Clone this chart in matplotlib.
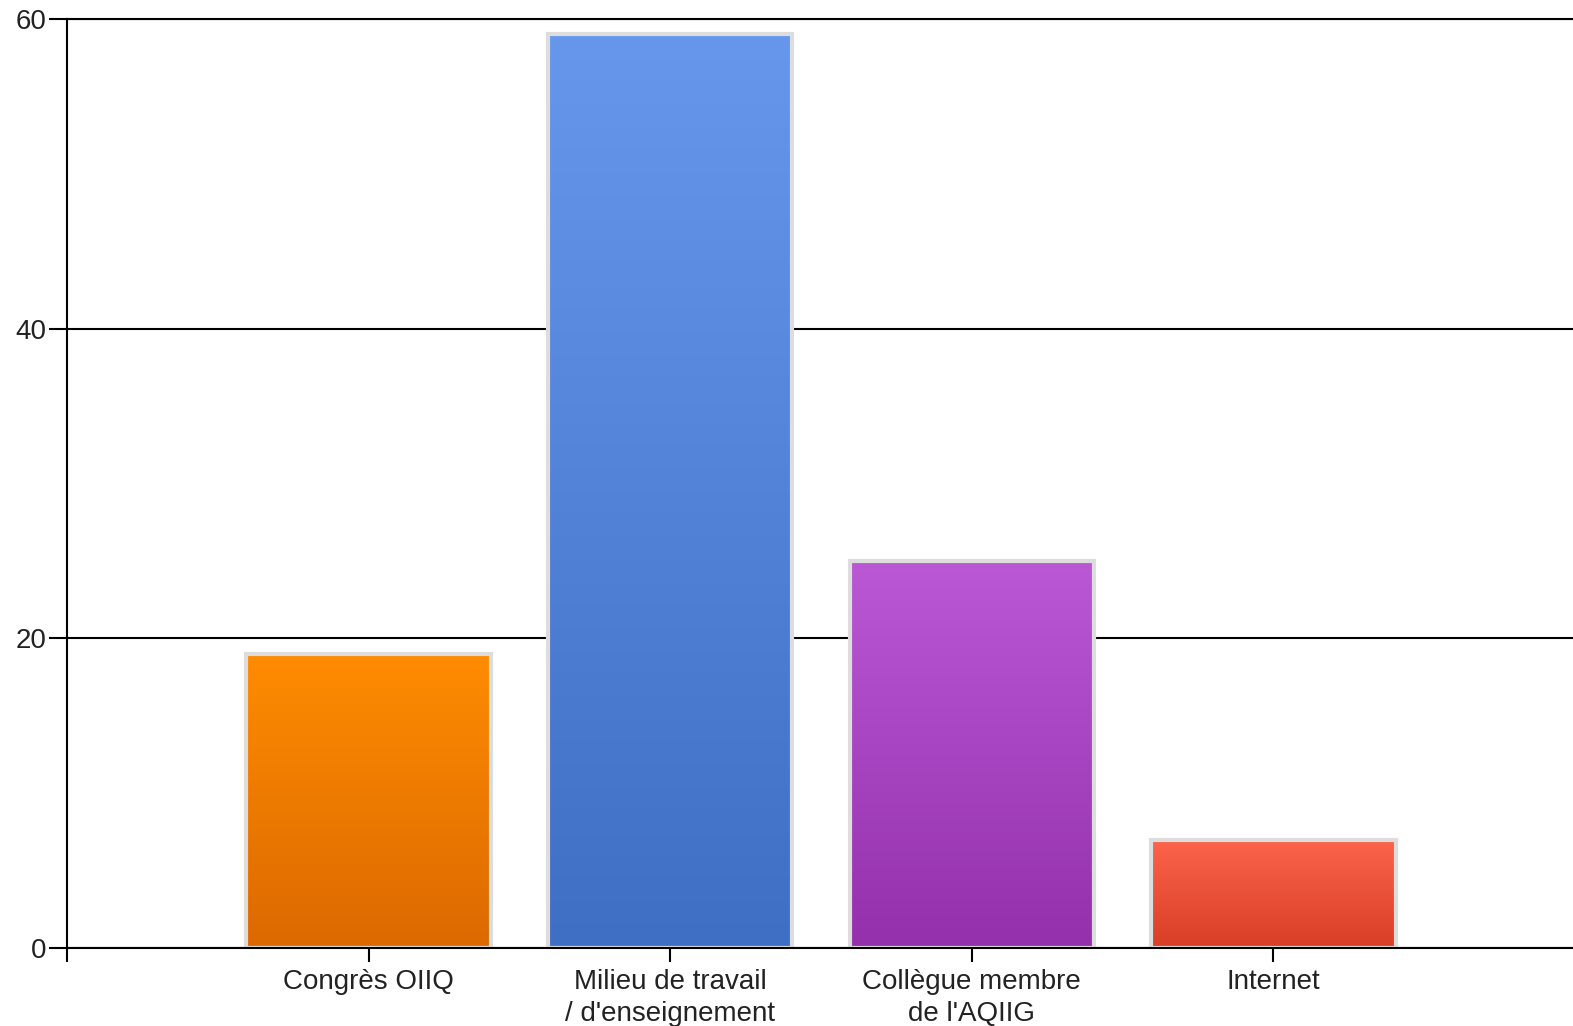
import matplotlib
matplotlib.use("Agg")
import matplotlib.pyplot as plt
import numpy as np
from matplotlib.colors import LinearSegmentedColormap

# data
categories = ["Congrès OIIQ", "Milieu de travail\n/ d'enseignement",
              "Collègue membre\nde l'AQIIG", "Internet"]
values = [19, 59, 25, 7]
# gradient colours (top, bottom) for each bar
top_colors = ["#ff8c00", "#6697ed", "#bb58d6", "#fd644c"]
bottom_colors = ["#dc6900", "#3f6fc5", "#9430ab", "#d83e26"]

plt.rcParams['font.family'] = ['Liberation Sans', 'DejaVu Sans']

fig = plt.figure(figsize=(15.73, 10.26), dpi=100)
W, H = 1573, 1026
ax = fig.add_axes([67 / W, 78 / H, 1508 / W, (948 - 19) / H])

x = np.arange(1, len(values) + 1)
bars = ax.bar(x, values, width=0.81, facecolor="none", edgecolor="#dddddd",
              linewidth=3, zorder=3)

grad = np.linspace(0, 1, 256).reshape(-1, 1)
for b, c1, c2 in zip(bars, top_colors, bottom_colors):
    cmap = LinearSegmentedColormap.from_list("g", [c1, c2])
    x0, y0 = b.get_x(), b.get_y()
    w, h = b.get_width(), b.get_height()
    im = ax.imshow(grad, cmap=cmap, aspect="auto",
                   extent=(x0, x0 + w, y0, y0 + h), origin="upper", zorder=2)
    im.set_clip_path(b)

ax.set_xlim(0, 5)
ax.set_ylim(0, 60)
ax.set_yticks([0, 20, 40, 60])
ax.set_xticks([0] + list(x))
ax.set_xticklabels([""] + categories)

ax.set_axisbelow(True)
ax.yaxis.grid(True, color="black", linewidth=1.5)
ax.spines["right"].set_visible(False)
for s in ["left", "bottom", "top"]:
    ax.spines[s].set_linewidth(1.5)
    ax.spines[s].set_color("black")
ax.spines["bottom"].set_zorder(5)

ax.tick_params(axis="y", length=13, width=1.5, labelsize=20,
               labelcolor="#222222", pad=2)
ax.tick_params(axis="x", length=10, width=1.5, labelsize=20,
               labelcolor="#222222", pad=5)
for t in ax.get_xticklabels():
    t.set_linespacing(1.3)

fig.savefig("out.png", dpi=100)
